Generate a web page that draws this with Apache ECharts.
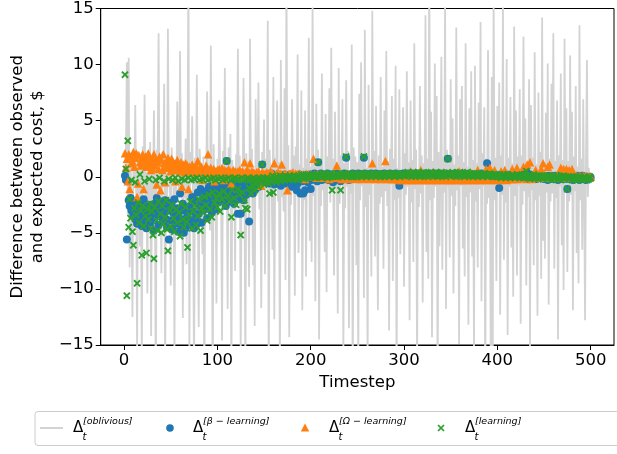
<!DOCTYPE html>
<html>
<head>
<meta charset="utf-8">
<script src="https://cdn.jsdelivr.net/npm/echarts@6/dist/echarts.min.js"></script>
<style>
html,body{margin:0;padding:0;background:#fff;}
#chart{width:617px;height:454px;}
</style>
</head>
<body>
<div id="chart"></div>
<script>
// ---- data (timesteps 1..500) ----
const xTicks = [0, 100, 200, 300, 400, 500];
const yTicks = [-15, -10, -5, 0, 5, 10, 15];
const legendNames = ['oblivious', 'β − learning', 'Ω − learning', 'learning'];

const obliviousDelta = [
0.3,2.1,10.2,-3.5,10.6,-8.1,1.2,-2.4,-12.5,1.6,-0.8,6.4,-1.5,-15.8,2.3,0.9,-6.2,1.8,-17.5,2.7,-1.1,7.3,-2.2,0.4,-10.4,
1.9,-2.6,3.1,-14.2,0.8,-1.7,5.9,-0.5,-20,2.4,1.1,12.8,-1.9,0.6,-8.6,2.2,-0.9,8.3,-17.9,1.4,-2.8,13.2,0.3,-1.4,-9.7,
2.6,-0.7,1.5,-16.1,0.9,-2.3,6.7,1.2,-1.6,11.2,-0.4,2.1,-12.6,0.7,-1.9,3.4,-7.8,1.3,20,-16.4,2.2,-0.6,5.4,-2.5,-19,
1.7,-0.9,9.1,-1.3,-13.4,2.5,0.5,-2.1,-6.9,1.8,-20,0.4,-1.2,7.6,-2.7,1.1,-4.8,11.7,-0.8,-20,2.9,-1.5,0.7,-11.3,1.6,
-2.2,6.8,0.6,-1.8,-14.6,2.3,-0.4,9.7,-1.9,1.2,-11.8,2.6,-0.7,3.8,-18.7,1.5,-2.6,0.8,-8.4,2.0,-0.3,11.4,-1.6,1.9,-15.6,
0.8,-2.4,8.8,-0.6,-16.9,2.1,-1.3,1.4,-9.8,12.3,-0.9,2.5,-7.9,0.6,-13.3,6.9,-1.7,1.1,8.4,-2.9,0.5,-11.7,2.2,-0.8,5.1,
-8.7,1.6,-0.6,13.9,-20,2.4,-1.4,0.9,-6.5,8.9,-12.7,1.7,-0.5,6.8,-2.2,1.3,-18.1,10.4,-1.8,0.7,-3.1,7.9,-9.2,19,-0.9,
2.8,-14.3,0.6,-2.5,6.9,-0.7,1.9,-10.6,2.7,-0.4,10.9,-6.8,1.1,-1.9,7.7,-11.9,0.8,-2.1,5.9,-8.9,1.6,-0.6,12.4,-5.7,0.9,
-7.6,16.2,-1.7,1.2,-11.1,6.5,-0.8,2.4,-14.5,1.3,-2.6,9.2,-1.2,0.5,-6.7,5.6,-10.3,1.8,-0.9,7.9,-2.3,11.5,-1.4,1.6,-8.8,
5.8,-1.1,0.7,-12.2,9.7,-2.4,1.9,-0.6,6.9,-15.9,1.2,-2.8,8.6,-0.9,2.3,-13.5,0.6,-1.5,11.8,-20,2.6,-0.5,1.8,-7.9,1.3,
-18.3,7.4,-2.1,10.2,-0.8,1.6,-10.8,13.1,-2.7,0.8,-17.2,8.2,-1.6,1.1,-8.9,14.8,-0.6,2.3,-7.1,6.3,-1.2,-11.9,1.9,-2.4,8.9,
-1.8,0.9,-8.2,5.9,-1.3,11.2,-2.6,1.4,-13.7,2.5,-0.7,7.2,-9.3,1.6,-2.1,9.9,-19.2,0.8,-1.9,7.8,-6.9,0.6,-1.1,6.2,-9.8,
2.1,-1.6,9.4,-0.9,1.3,-12.8,6.8,-2.3,1.5,-7.6,11.9,-1.1,2.4,-17.1,0.7,-2.7,8.1,-1.5,1.9,-11.2,1.2,-0.7,14.4,-6.7,1.6,
-9.1,20,-2.1,5.8,-14.3,1.4,-1.9,10.1,-0.9,7.2,-20,2.2,-6.2,0.8,10.7,-8.3,1.8,-1.4,16.4,-11.8,2.4,-0.9,1.2,-7.2,8.7,
-1.7,5.2,-10.4,1.1,-2.6,13.3,-1.2,1.9,-14.9,6.9,-0.8,8.1,-6.4,1.3,-8.9,11.9,-1.8,0.9,-13.2,6.1,-1.4,9.4,-7.1,1.5,-16.1,
9.9,-2.2,1.2,-8.1,6.6,-1.1,13.8,-11.1,2.1,-0.8,6.2,-20,1.6,-2.4,11.3,-1.9,1.4,-18.1,8.9,-20,16.9,-2.1,1.7,-9.3,6.3,
-1.3,8.4,-12.3,1.9,-1.6,15.2,-7.4,0.9,-2.3,10.5,-14.1,1.7,-0.9,7.1,-6.3,1.2,-10.7,13.4,-1.7,5.9,-8.8,1.8,-0.8,7.8,-13.1,
1.9,-2.5,12.5,-1.3,5.2,-9.7,0.8,-1.8,8.7,-15.3,6.4,-1.2,1.7,-7.9,11.1,-2.1,1.1,-12.4,7.5,-1.7,2.2,-9.1,14.2,-5.7,1.3,
-7.3,5.7,-1.4,10.1,-11.4,1.6,-2.2,8.3,-1.5,12.8,-8.2,1.4,-1.9,6.8,-14.5,1.9,-0.9,9.2,-6.1,1.5,-10.1,12.3,-1.4,6.1,-8.5,
1.4,-2.2,10.8,-1.6,5.8,-11.9,1.8,-1.3,8.1,-6.8,0.9,-9.5,13.5,-2.1,1.6,-6.5,6.9,-1.5,-12.8,1.9,10.4,-1.8,0.8,-0.6,0.4
];

const betaLearningDelta = [
0.1,-0.3,-5.6,-0.4,-2.1,-2.6,-1.9,-3.0,-2.4,-3.4,-2.2,-3.8,-2.9,-4.2,-3.1,-2.7,-3.6,-2.3,-4.4,-3.2,-2.0,-3.9,-2.6,-4.6,-3.3,
-2.8,-3.5,-4.1,-2.5,-3.7,-3.0,-4.8,-2.4,-3.4,-1.9,-2.9,-4.3,-3.1,-2.2,-3.6,-2.7,-4.0,-3.3,-2.1,-3.8,-4.5,-2.6,-5.6,-3.0,-3.9,
-2.3,-4.7,-3.2,-2.0,-4.2,-3.5,-2.8,-4.9,-3.7,-1.5,-4.4,-3.0,-2.4,-5.0,-3.8,-4.6,-2.9,-3.4,-4.0,-2.7,-3.9,-4.3,-1.8,-3.1,-4.6,
-2.2,-3.6,-4.2,-1.4,-3.3,-2.6,-1.1,-4.1,-2.0,-3.0,-1.7,-2.4,-1.3,-3.7,-2.8,-0.9,-2.2,-1.6,-3.2,-2.5,-1.2,-1.9,-2.9,-0.8,-1.5,
-2.3,-1.0,-1.7,-1.1,-1.4,-0.7,-2.0,-1.2,-2.6,1.4,-0.9,-1.7,-1.5,-2.2,-1.1,-0.6,-1.8,-2.4,-1.3,-0.8,-1.6,-3.3,-2.0,-1.0,-3.3,
-1.4,-0.7,-2.1,-1.1,-0.5,-1.6,-0.9,-1.3,-4.0,-0.6,-1.0,-0.4,-1.5,-0.8,-0.3,-1.1,-0.6,-0.2,-0.9,-0.4,-0.7,-0.3,1.1,-0.5,-0.2,
-0.3,0.1,-0.5,-0.2,0.2,-0.6,-0.1,0.3,-0.4,0.0,-0.7,0.1,-0.2,-0.5,0.2,-0.3,0.0,-0.8,0.1,-0.4,-0.1,0.2,-0.6,-0.2,0.1,
-0.5,-0.1,0.2,-0.3,-0.9,0.0,-0.4,-0.2,0.1,-1.2,-0.6,-0.3,0.2,-1.5,-0.1,-0.4,-1.5,0.0,-1.2,-0.3,0.1,-0.5,-0.2,0.2,-1.1,
-0.3,0.1,-0.1,0.3,-0.2,0.0,-0.4,1.3,0.2,-0.1,0.3,-0.3,0.1,0.0,-0.2,0.2,-0.1,0.3,-0.3,0.1,0.0,0.2,-0.2,-0.5,0.1,
0.2,-0.1,0.3,0.0,-0.2,0.1,-0.4,0.2,0.0,-0.1,0.3,-0.2,1.7,0.1,0.0,-0.3,0.2,0.1,-0.1,0.3,0.0,-0.2,0.2,0.1,-0.1,
0.3,0.0,-0.2,0.1,0.2,-0.1,1.7,0.3,0.0,0.1,-0.2,0.2,0.1,-0.1,0.3,0.0,0.2,-0.1,0.1,0.3,0.0,-0.2,0.2,0.1,0.0,
0.2,-0.1,0.1,0.3,0.0,0.2,-0.2,0.1,0.0,0.3,0.1,-0.1,0.2,0.0,0.1,0.3,-0.1,0.2,0.0,-0.8,0.1,0.2,-0.1,0.3,0.0,
0.2,0.1,-0.1,0.3,0.0,0.2,0.1,-0.2,0.3,0.1,0.0,0.2,-0.1,0.1,0.3,0.0,0.2,0.1,-0.1,0.2,0.0,0.3,0.1,-0.1,0.2,
0.0,0.1,0.3,-0.1,0.2,0.0,0.1,0.3,0.2,-0.1,0.1,0.0,0.2,0.3,-0.1,0.1,0.2,0.0,0.1,0.3,-0.1,1.6,0.2,0.0,0.1,
0.2,-0.1,0.1,0.3,0.0,0.2,0.1,-0.1,0.2,0.0,0.3,0.1,-0.1,0.2,0.1,0.0,0.2,-0.1,0.1,0.3,0.0,0.1,0.2,-0.1,0.0,
0.1,0.2,0.0,-0.1,0.2,0.1,0.0,0.3,-0.1,0.1,0.2,0.0,-0.1,1.2,0.1,0.0,0.2,-0.1,0.1,0.0,0.2,-0.1,0.1,0.0,-0.2,
0.1,-1.0,0.0,0.2,-0.1,0.1,0.0,-0.2,0.1,0.2,0.0,-0.1,0.1,0.0,-0.2,0.2,0.1,-0.1,0.0,0.1,-0.2,0.0,0.1,-0.1,0.2,
0.0,-0.1,0.1,0.0,-0.2,0.5,0.1,0.0,-0.1,0.2,0.0,-0.2,0.1,-0.1,0.0,0.1,-0.2,0.0,0.1,-0.1,0.0,0.2,-0.1,0.0,-0.2,
0.1,0.0,-0.1,-0.3,0.1,0.0,-0.2,0.1,-0.1,0.0,-0.2,0.1,0.0,-0.1,-0.3,0.0,0.1,-0.2,0.0,-0.1,0.1,-0.2,0.0,-0.1,-1.1,
0.0,-0.2,0.1,-0.1,0.0,-0.3,0.1,-0.1,0.0,-0.2,0.1,-0.1,-0.3,0.0,-0.1,0.1,-0.2,0.0,-0.1,-0.3,0.0,-0.1,-0.2,0.0,-0.1
];

const omegaLearningDelta = [
2.1,0.8,1.6,-0.4,2.0,-1.1,1.8,1.2,1.4,2.2,0.9,1.7,2.1,-1.8,-0.6,1.9,1.3,1.0,1.6,2.0,-1.1,1.2,1.8,0.9,1.5,
2.1,1.1,1.7,0.6,0.8,1.4,2.0,1.0,1.6,-0.7,1.3,0.7,1.8,-1.2,1.5,0.6,2.0,1.2,-0.5,0.9,1.4,1.7,0.8,1.1,0.5,
1.6,0.9,1.3,0.6,-0.4,1.1,1.5,0.7,1.0,0.5,1.3,-0.9,0.8,1.1,0.4,1.2,0.7,1.0,-1.1,0.9,0.5,0.6,1.1,0.4,0.8,
0.5,1.0,0.6,1.4,0.4,0.8,0.5,0.9,-0.3,0.6,0.4,0.7,1.0,0.5,2.0,0.6,0.3,0.8,0.5,0.4,0.7,-0.4,0.5,0.3,0.6,
0.4,0.7,0.3,0.5,0.8,0.4,-0.3,0.6,0.3,0.5,0.4,0.7,0.3,0.5,-0.6,0.4,0.6,0.3,0.5,0.4,0.2,0.5,0.3,0.6,0.4,
0.3,0.5,0.2,1.3,0.4,0.3,0.6,0.2,0.4,1.2,0.3,0.5,0.2,0.4,0.3,0.1,0.4,0.2,0.5,0.3,0.2,-0.8,0.4,0.3,0.1,
0.3,0.2,0.4,0.1,0.3,0.2,0.5,0.1,0.3,0.2,1.2,0.1,0.3,0.2,0.4,0.1,0.2,0.3,1.1,0.1,0.2,0.3,0.1,0.2,-1.2,
0.2,0.1,0.3,0.2,0.1,0.4,0.2,0.1,0.3,0.0,0.2,0.1,0.3,0.2,0.0,0.1,0.2,0.1,-0.2,0.3,0.1,0.0,0.2,0.1,0.2,
0.1,0.0,1.6,0.2,0.1,-0.1,0.2,0.0,0.1,0.2,-0.1,0.1,0.0,0.2,0.1,-0.1,0.0,0.1,0.2,-0.2,0.1,0.0,0.1,-0.1,0.2,
0.0,0.1,1.0,-0.1,0.0,0.2,0.1,-0.2,0.0,0.1,-0.1,0.2,0.0,0.1,-0.2,0.0,0.1,-0.1,0.2,0.0,-0.1,0.1,0.0,-0.2,0.1,
0.0,-0.1,0.1,0.0,-0.2,0.1,0.0,-0.1,0.2,0.0,-0.1,0.1,-0.2,0.0,0.1,1.2,-0.1,0.0,0.1,-0.2,0.0,0.1,-0.1,0.0,-0.2,
0.1,0.0,-0.1,0.2,1.4,-0.2,0.0,0.1,-0.1,-0.2,0.0,0.1,-0.2,-0.1,0.0,-0.2,0.1,-0.1,-0.3,0.0,-0.2,-0.1,-0.3,0.0,-0.2,
-0.1,-0.3,-0.2,0.0,-0.3,-0.1,0.5,-0.2,-0.3,-0.1,-0.2,-0.3,0.0,-0.2,-0.1,-0.3,-0.2,0.6,-0.1,-0.3,-0.2,-0.1,-0.3,-0.2,0.0,
-0.2,-0.3,-0.1,-0.2,-0.3,0.4,-0.2,-0.1,-0.3,-0.2,-0.1,-0.3,-0.2,0.0,-0.2,-0.3,-0.1,-0.2,0.3,-0.3,-0.2,-0.1,-0.3,-0.2,-0.1,
-0.3,-0.2,0.0,-0.2,-0.3,-0.1,-0.2,-0.3,0.5,-0.2,-0.1,-0.3,-0.2,-0.1,-0.3,-0.2,0.0,-0.3,-0.2,-0.1,0.4,-0.2,-0.3,-0.1,-0.2,
-0.3,-0.2,-0.1,0.6,-0.2,-0.3,-0.1,-0.2,-0.3,0.0,-0.2,-0.1,0.7,-0.3,-0.2,-0.1,0.8,-0.2,-0.3,-0.1,-0.2,0.6,-0.3,-0.1,-0.2,
-0.1,-0.2,-0.3,0.5,-0.1,-0.2,-0.1,0.6,-0.2,-0.3,-0.1,-0.2,0.0,-0.1,-0.2,0.7,-0.1,-0.2,0.0,-0.1,0.8,-0.2,-0.1,0.0,-0.1,
0.0,-0.1,0.9,0.0,-0.1,-0.2,1.1,0.0,-0.1,1.3,0.0,-0.2,0.1,-0.1,0.0,0.6,-0.1,0.0,0.1,-0.1,0.0,0.7,-0.1,1.2,0.0,
-0.1,0.1,0.0,0.9,-0.1,1.1,0.0,0.1,-0.1,0.0,0.1,-0.1,0.0,0.1,0.0,-0.1,0.1,0.8,0.0,-0.1,0.7,0.0,0.1,0.7,-0.1,
0.0,0.6,0.1,-0.1,0.7,0.0,0.1,-0.1,0.0,0.1,0.0,-0.1,0.1,0.0,-0.1,0.0,0.1,-0.1,0.0,0.1,-0.1,0.0,0.0,-0.1,0.0
];

const learningDelta = [
9.1,0.7,-10.6,3.2,-4.5,-2.0,-3.7,-0.3,-4.9,-6.1,-2.8,-0.5,-3.4,-9.5,-2.3,-4.1,0.2,-3.0,-7.0,-2.6,-4.4,-0.4,-3.5,-6.8,-2.9,
-3.8,-0.2,-2.4,-4.6,-3.1,-5.2,-7.3,-2.7,-0.3,-3.9,-4.8,-2.2,-0.1,-3.3,-5.0,-2.6,-4.2,-0.4,-3.6,-2.1,-4.7,-6.6,-0.2,-3.0,-4.4,
-2.5,-0.3,-3.7,-4.9,-0.1,-2.9,-4.1,-0.4,-3.2,-5.3,-2.4,-0.2,-3.8,-4.5,-0.3,-2.7,-4.0,-6.3,-0.1,-3.4,-2.2,-0.3,-4.6,-3.1,-0.2,
-2.6,-4.3,-0.1,-3.5,-2.0,-0.3,-4.8,-2.8,-0.2,-3.2,-1.8,-0.1,-2.5,-3.9,-0.3,-1.6,-2.9,-0.2,-3.6,-1.4,-0.1,-2.3,-0.3,-1.9,-2.7,
-0.2,-1.5,-3.1,-0.1,-2.0,-0.3,-1.3,-2.6,-0.2,1.4,-1.7,-0.1,-2.2,-0.3,-3.6,-1.2,-0.2,-1.9,-0.1,-2.5,-0.3,-1.1,-0.2,-1.6,-5.2,
-0.1,-1.4,-0.3,-2.1,-2.8,-0.2,-2.9,-0.1,-1.0,-0.3,-1.5,-0.2,-0.8,-0.1,-1.2,-0.3,-0.6,-0.2,-0.9,-0.1,-0.4,-0.2,1.1,-0.1,-0.7,
-0.2,-0.5,-0.1,-0.3,-0.6,-1.5,-0.2,-0.4,0.1,-1.4,-0.3,-0.1,-0.5,0.0,-0.2,-0.3,0.1,-0.4,-0.1,-0.2,0.0,-0.3,0.1,-0.1,-0.2,
0.0,-0.3,0.1,-0.1,-0.2,0.0,0.1,-0.2,-0.1,0.0,-0.3,0.1,-0.1,0.0,0.2,-0.1,0.1,-0.2,0.0,0.1,-0.1,0.2,0.0,0.1,-0.1,
0.1,0.0,0.2,-0.1,0.1,0.0,0.2,1.3,0.1,0.0,0.2,-0.1,0.1,0.3,0.0,0.1,0.2,-0.1,0.0,0.1,0.3,0.0,-1.2,0.1,0.2,
0.0,0.1,0.3,0.0,0.2,0.1,-1.2,0.2,0.0,0.1,0.3,0.1,1.8,0.0,0.2,0.1,0.3,0.0,0.1,0.2,0.0,0.3,0.1,0.2,0.0,
0.1,0.3,0.2,0.0,0.1,0.2,1.8,0.1,0.3,0.0,0.2,0.1,0.3,0.2,0.0,0.1,0.3,0.2,0.1,0.0,0.2,0.3,0.1,0.2,0.0,
0.2,0.1,0.3,0.0,0.2,0.1,0.3,0.2,0.0,0.1,0.3,0.2,0.1,0.3,0.0,0.2,0.1,0.3,0.2,0.1,0.0,0.2,0.3,0.1,0.2,
0.1,0.3,0.2,0.4,0.1,0.2,0.3,0.0,0.2,0.4,0.1,0.3,0.2,0.1,0.4,0.2,0.0,0.3,0.1,0.2,0.4,0.2,0.1,0.3,0.2,
0.0,0.3,0.2,0.4,0.1,0.2,0.3,0.1,0.4,0.2,0.0,0.3,0.1,0.2,0.4,0.2,0.1,0.3,0.2,0.0,0.3,1.6,0.2,0.1,0.3,
0.2,0.4,0.1,0.3,0.2,0.0,0.3,0.2,0.1,0.4,0.2,0.3,0.1,0.2,0.0,0.3,0.2,0.4,0.1,0.2,0.3,0.1,0.2,0.0,0.3,
0.1,0.2,0.3,0.0,0.2,0.1,0.3,0.2,0.0,0.1,0.3,0.2,0.1,0.2,0.0,0.1,0.3,0.1,0.2,0.0,0.1,0.2,0.0,0.1,0.2,
0.0,0.1,0.2,-0.1,0.1,0.0,0.2,0.1,-0.1,0.0,0.2,0.1,0.0,-0.1,0.1,0.2,0.0,0.1,-0.1,0.0,0.2,0.1,0.0,-0.1,0.1,
0.0,0.1,-0.1,0.2,0.0,0.5,-0.1,0.1,0.0,-0.2,0.1,0.0,-0.1,0.2,0.0,-0.1,0.1,0.0,-0.2,0.1,0.0,-0.1,0.1,-0.2,0.0,
0.1,-0.1,0.0,-0.2,0.1,0.0,-0.1,-0.3,0.1,0.0,-0.2,-0.1,0.0,0.1,-0.2,0.0,-0.1,-0.3,0.0,-0.1,0.1,-0.2,0.0,-0.1,-1.1,
0.0,-0.2,-0.1,0.0,-0.3,-0.1,0.0,-0.2,-0.1,0.0,-0.3,-0.1,-0.2,0.0,-0.1,-0.3,-0.2,0.0,-0.1,-0.2,-0.3,-0.1,-0.2,0.0,-0.1
];

// ---- build [x, y] pairs (x = timestep index starting at 1) ----
const pairs = arr => arr.map((v, i) => [i + 1, v]);

const FONT = 'DejaVu Sans';
const AXFS = 16.5;
const minusFmt = v => (v < 0 ? '\u2212' + Math.abs(v) : String(v));

const xMarker = 'path://M0,1.8L1.8,0L5,3.2L8.2,0L10,1.8L6.8,5L10,8.2L8.2,10L5,6.8L1.8,10L0,8.2L3.2,5Z';

// ---- legend drawn as graphic (math-style labels) ----
function legendLabel(x0, sup) {
  return [
    { type: 'text', x: x0, y: 428, z: 101, style: { text: 'Δ', font: '15px "DejaVu Sans"', fill: '#000', verticalAlign: 'middle' } },
    { type: 'text', x: x0 + 9.5, y: 437, z: 101, style: { text: 't', font: 'italic 10px "DejaVu Sans"', fill: '#000', verticalAlign: 'middle' } },
    { type: 'text', x: x0 + 10, y: 422, z: 101, style: { text: '[' + sup + ']', font: 'italic 9.5px "DejaVu Sans"', fill: '#000', verticalAlign: 'middle' } }
  ];
}
const legendGraphic = [
  { type: 'rect', z: 100, shape: { x: 35, y: 411.5, width: 640, height: 34, r: 3 }, style: { fill: '#fff', stroke: '#cccccc', lineWidth: 1 } },
  { type: 'line', z: 101, shape: { x1: 40, y1: 428, x2: 63, y2: 428 }, style: { stroke: '#d3d3d3', lineWidth: 2 } },
  { type: 'circle', z: 101, shape: { cx: 170, cy: 428, r: 3.8 }, style: { fill: '#1f77b4' } },
  { type: 'polygon', z: 101, shape: { points: [[305, 423.5], [309.2, 431.5], [300.8, 431.5]] }, style: { fill: '#ff7f0e' } },
  { type: 'line', z: 101, shape: { x1: 438, y1: 425, x2: 444, y2: 431 }, style: { stroke: '#2ca02c', lineWidth: 1.7 } },
  { type: 'line', z: 101, shape: { x1: 438, y1: 431, x2: 444, y2: 425 }, style: { stroke: '#2ca02c', lineWidth: 1.7 } }
].concat(
  legendLabel(73, legendNames[0]),
  legendLabel(193, legendNames[1]),
  legendLabel(329, legendNames[2]),
  legendLabel(465, legendNames[3])
);

const chart = echarts.init(document.getElementById('chart'), null, { renderer: 'canvas' });
chart.setOption({
  animation: false,
  backgroundColor: '#fff',
  grid: { left: 95, right: 3, top: 7, bottom: 109, show: true, borderColor: '#000', borderWidth: 1, backgroundColor: 'transparent' },
  xAxis: {
    type: 'value', min: -25, max: 525,
    name: 'Timestep', nameLocation: 'middle', nameGap: 28,
    nameTextStyle: { fontFamily: FONT, fontSize: AXFS, color: '#000' },
    axisLine: { show: true, onZero: false, lineStyle: { color: '#000', width: 1 } },
    axisTick: { show: true, customValues: xTicks, length: 5, lineStyle: { color: '#000', width: 1 } },
    axisLabel: { customValues: xTicks, color: '#000', fontFamily: FONT, fontSize: AXFS, margin: 7 },
    splitLine: { show: false }
  },
  yAxis: {
    type: 'value', min: yTicks[0], max: yTicks[yTicks.length - 1], interval: 5,
    name: 'Difference between observed\nand expected cost, $', nameLocation: 'middle', nameGap: 48,
    nameTextStyle: { fontFamily: FONT, fontSize: AXFS, color: '#000', lineHeight: 20 },
    axisLine: { show: true, onZero: false, lineStyle: { color: '#000', width: 1 } },
    axisTick: { show: true, length: 5, lineStyle: { color: '#000', width: 1 } },
    axisLabel: { color: '#000', fontFamily: FONT, fontSize: AXFS, margin: 7, formatter: minusFmt },
    splitLine: { show: false }
  },
  series: [
    { name: legendNames[0], type: 'line', data: pairs(obliviousDelta), showSymbol: false, symbol: 'none',
      lineStyle: { color: '#d3d3d3', width: 1.8 }, z: 1, clip: true },
    { name: legendNames[1], type: 'scatter', data: pairs(betaLearningDelta), symbol: 'circle', symbolSize: 8,
      itemStyle: { color: '#1f77b4', opacity: 1 }, z: 2 },
    { name: legendNames[2], type: 'scatter', data: pairs(omegaLearningDelta), symbol: 'triangle', symbolSize: 8.5,
      itemStyle: { color: '#ff7f0e', opacity: 1 }, z: 3 },
    { name: legendNames[3], type: 'scatter', data: pairs(learningDelta), symbol: xMarker, symbolSize: 7.5,
      itemStyle: { color: '#2ca02c', opacity: 1 }, z: 4 }
  ],
  graphic: legendGraphic
});
</script>
</body>
</html>
